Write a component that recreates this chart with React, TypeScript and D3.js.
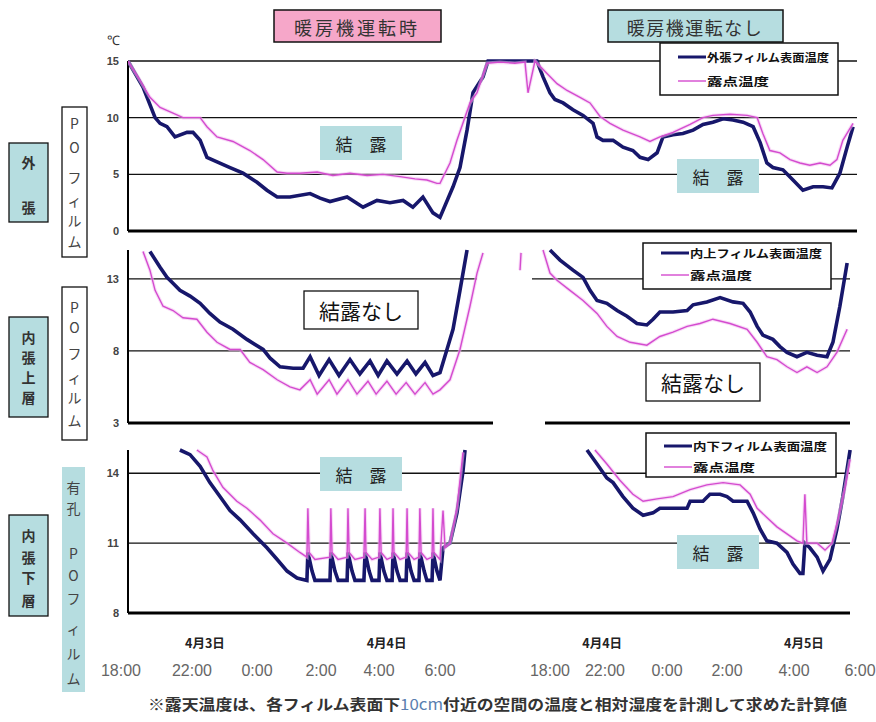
import React from "react";
import * as d3 from "d3";

// ---- x axis: hours elapsed from 18:00 on 4/3 (left night) ... right night ----
const TIME_HOURS = [0, 4, 6, 8, 10, 12, 24, 28, 30, 32, 34, 36];
const TIME_LABELS = ["18:00", "22:00", "0:00", "2:00", "4:00", "6:00", "18:00", "22:00", "0:00", "2:00", "4:00", "6:00"];
const DATE_HOURS = [4.4, 10.25, 27.8, 34.3];
const DATE_LABELS = ["4月3日", "4月4日", "4月4日", "4月5日"];

// ---- y ticks ----
const OUTER_DOMAIN = [0, 15];
const OUTER_TICKS = [15, 10, 5, 0];
const OUTER_GRID = [15, 10, 5];
const UPPER_DOMAIN = [3, 15];
const UPPER_TICKS = [13, 8, 3];
const UPPER_GRID = [13, 8];
const LOWER_DOMAIN = [8, 15];
const LOWER_TICKS = [14, 11, 8];
const LOWER_GRID = [14, 11];

// ---- series: [hour, °C] ----
const OUTER_FILM: number[][] = [[0.39,15.0],[1.24,12.7],[1.92,10.0],[2.2,9.5],[2.59,9.2],[3.04,8.3],[3.72,8.7],[4.03,8.7],[4.25,8.0],[4.46,6.5],[4.77,6.1],[5.17,5.6],[5.57,5.1],[6.0,4.3],[6.31,3.6],[6.63,3.0],[7.03,3.0],[7.66,3.3],[7.97,2.9],[8.31,2.6],[8.9,3.0],[9.45,2.1],[9.93,2.7],[10.36,2.5],[10.79,2.7],[11.11,2.1],[11.44,3.0],[11.77,1.6],[12.0,1.2],[13.42,3.9],[14.18,5.6],[14.95,8.9],[15.6,12.2],[16.69,13.6],[17.24,15.0],[22.58,15.0],[23.24,13.6],[24.0,12.2],[24.36,11.6],[24.95,11.3],[25.67,10.7],[26.4,10.2],[27.13,9.5],[27.42,8.3],[27.85,8.0],[28.26,8.0],[28.58,7.4],[28.9,7.1],[29.13,6.5],[29.39,6.3],[29.68,6.9],[29.87,8.3],[30.2,8.5],[30.53,8.6],[30.87,8.9],[31.2,9.4],[31.53,9.6],[31.87,9.9],[32.18,9.8],[32.48,9.6],[32.78,9.2],[32.99,7.8],[33.19,6.0],[33.37,5.6],[33.67,5.4],[33.97,4.5],[34.27,3.6],[34.58,3.9],[34.88,3.9],[35.15,3.8],[35.39,5.1],[35.61,7.4],[35.79,9.2]];
const OUTER_DEW: number[][] = [[0.39,15.0],[1.07,13.3],[1.63,11.8],[2.2,10.9],[2.93,10.4],[3.49,10.0],[4.25,10.0],[4.46,9.2],[4.77,8.3],[5.26,7.9],[5.78,7.1],[6.19,6.3],[6.63,5.2],[6.94,5.1],[7.34,5.1],[7.88,5.2],[8.41,4.9],[9.0,5.1],[9.59,4.9],[10.13,5.0],[10.69,4.8],[11.18,4.6],[11.57,4.5],[11.9,4.2],[12.0,4.2],[13.09,6.0],[13.85,8.0],[15.27,11.3],[16.04,12.2],[17.13,14.8],[18.55,14.9],[20.18,14.8],[21.27,14.9],[21.6,12.2],[22.36,15.0],[23.67,13.9],[24.51,13.0],[25.24,12.4],[26.18,11.8],[26.91,11.3],[27.64,10.1],[28.16,9.5],[28.58,8.9],[29.13,8.3],[29.45,7.9],[29.77,8.3],[30.2,8.7],[30.77,9.4],[31.2,10.0],[31.53,10.2],[32.09,10.3],[32.6,10.2],[32.9,10.0],[33.07,8.6],[33.28,7.1],[33.58,6.9],[33.88,6.3],[34.18,6.0],[34.48,5.8],[34.79,6.0],[35.09,5.8],[35.3,6.3],[35.48,8.0],[35.79,9.5]];

const UPPER_FILM: number[][] = [[1.63,14.9],[2.2,13.8],[2.59,13.1],[2.93,12.7],[3.32,12.2],[3.89,11.8],[4.25,11.3],[4.55,10.6],[4.86,10.0],[5.26,9.5],[5.69,8.8],[6.19,8.1],[6.41,7.5],[6.72,6.9],[7.13,6.8],[7.44,6.8],[7.66,7.6],[7.94,6.3],[8.28,7.4],[8.62,6.3],[9.0,7.4],[9.34,6.4],[9.69,7.3],[9.97,6.3],[10.26,7.3],[10.59,6.4],[10.92,7.3],[11.21,6.4],[11.51,7.2],[11.77,6.3],[12.0,6.5],[12.76,8.1],[13.42,9.5],[14.18,12.2],[14.95,15.0],[20,NaN],[24.0,15.0],[24.73,14.3],[25.67,13.6],[26.4,13.1],[26.91,12.2],[27.42,11.5],[28.06,11.3],[28.39,10.8],[28.71,10.4],[29.03,9.9],[29.35,9.8],[29.55,10.2],[29.77,10.7],[30.2,10.7],[30.67,10.8],[30.87,11.2],[31.33,11.4],[31.77,11.7],[32.18,11.4],[32.48,11.3],[32.69,10.7],[32.9,9.7],[33.07,9.1],[33.37,8.8],[33.58,8.3],[33.79,7.9],[34.09,7.6],[34.39,7.9],[34.7,7.7],[35.0,7.6],[35.18,8.6],[35.39,11.1],[35.61,14.1]];
const UPPER_DEW: number[][] = [[1.24,14.9],[1.63,13.6],[1.92,12.2],[2.37,11.1],[2.93,10.8],[3.49,10.3],[4.15,10.2],[4.46,9.3],[4.77,8.6],[5.17,8.1],[5.48,8.1],[5.78,7.2],[6.19,6.7],[6.63,6.0],[7.03,5.5],[7.34,5.3],[7.66,6.0],[7.88,5.0],[8.28,6.0],[8.55,5.0],[8.93,6.0],[9.24,5.0],[9.62,5.9],[9.9,5.0],[10.26,5.9],[10.56,5.0],[10.89,5.8],[11.18,5.0],[11.51,5.8],[11.77,5.0],[12.0,5.3],[13.09,6.0],[14.18,8.1],[15.27,11.1],[16.04,13.4],[16.69,14.8],[17,NaN],[20.73,13.6],[20.84,14.8],[21,NaN],[23.24,15.0],[24.0,13.4],[24.51,12.9],[25.45,12.2],[26.4,11.5],[27.42,10.6],[28.06,9.7],[28.39,9.0],[28.81,8.6],[29.35,8.4],[29.77,9.0],[30.2,9.3],[30.67,9.7],[31.1,9.9],[31.53,10.2],[32.09,9.9],[32.6,9.5],[32.9,8.6],[33.19,7.6],[33.49,7.4],[33.79,6.9],[34.09,6.5],[34.39,6.9],[34.7,6.5],[35.0,6.9],[35.3,7.9],[35.61,9.5]];

const LOWER_FILM: number[][] = [[3.32,15.0],[3.89,14.8],[4.25,14.3],[4.55,13.6],[4.86,13.0],[5.17,12.4],[5.48,12.0],[5.88,11.4],[6.31,10.8],[6.63,10.3],[6.94,9.8],[7.25,9.5],[7.56,9.4],[7.59,10.6],[7.72,9.8],[7.81,9.4],[8.31,9.4],[8.34,10.6],[8.48,9.8],[8.59,9.4],[8.9,9.4],[8.93,10.6],[9.07,9.8],[9.17,9.4],[9.48,9.4],[9.52,10.6],[9.66,9.8],[9.76,9.4],[10.0,9.4],[10.03,10.6],[10.16,9.8],[10.26,9.4],[10.43,9.4],[10.46,10.6],[10.59,9.8],[10.69,9.4],[10.89,9.4],[10.92,10.6],[11.05,9.8],[11.15,9.4],[11.31,9.4],[11.34,10.6],[11.48,9.8],[11.57,9.4],[11.74,9.4],[11.77,10.6],[11.9,9.8],[12.0,9.4],[12.33,10.8],[13.09,11.0],[13.85,12.3],[14.51,14.1],[14.73,15.0],[20,NaN],[26.69,15.0],[27.42,14.4],[28.06,13.8],[28.26,13.6],[28.58,13.0],[28.9,12.5],[29.23,12.2],[29.55,12.3],[29.77,12.5],[30.2,12.5],[30.67,12.5],[30.77,12.8],[31.2,12.8],[31.43,13.1],[31.77,13.1],[32.0,13.0],[32.18,12.8],[32.6,12.8],[32.78,12.3],[32.99,11.6],[33.19,11.1],[33.49,11.0],[33.79,10.6],[33.97,10.1],[34.18,9.7],[34.27,9.7],[34.33,11.0],[34.48,10.8],[34.7,10.4],[34.88,9.8],[35.09,10.3],[35.3,11.6],[35.48,13.0],[35.7,15.0]];
const LOWER_DEW: number[][] = [[4.15,15.0],[4.46,14.7],[4.65,14.1],[4.95,13.4],[5.38,12.8],[5.69,12.5],[6.09,12.0],[6.5,11.4],[6.94,11.0],[7.34,10.6],[7.56,10.4],[7.59,12.5],[7.63,10.6],[7.81,10.3],[8.31,10.4],[8.34,12.5],[8.38,10.6],[8.59,10.3],[8.9,10.4],[8.93,12.5],[8.97,10.6],[9.17,10.3],[9.48,10.4],[9.52,12.5],[9.55,10.6],[9.76,10.3],[10.0,10.4],[10.03,12.5],[10.07,10.6],[10.26,10.3],[10.43,10.4],[10.46,12.5],[10.49,10.6],[10.69,10.3],[10.89,10.4],[10.92,12.5],[10.95,10.6],[11.15,10.3],[11.31,10.4],[11.34,12.5],[11.38,10.6],[11.57,10.3],[11.74,10.4],[11.77,12.5],[11.8,10.6],[12.0,10.3],[12.33,12.4],[12.55,10.8],[13.09,11.0],[13.85,12.5],[14.51,14.9],[20,NaN],[27.27,15.0],[28.06,14.4],[28.48,13.7],[28.9,13.1],[29.23,12.8],[29.68,12.9],[30.2,13.0],[30.77,13.3],[31.33,13.5],[31.87,13.6],[32.39,13.5],[32.69,13.1],[32.9,12.5],[33.19,12.1],[33.49,11.7],[33.79,11.4],[34.09,11.1],[34.27,11.0],[34.33,13.1],[34.39,11.0],[34.7,11.0],[34.94,10.7],[35.15,11.0],[35.33,12.0],[35.55,13.4],[35.7,14.6]];

const LEGEND_FILM = ["外張フィルム表面温度", "内上フィルム表面温度", "内下フィルム表面温度"];
const LEGEND_DEW = "露点温度";

// ---- layout / style ----
const JP = "'Noto Sans CJK JP', sans-serif";
const NUM = "'Liberation Sans', Arial, sans-serif";
const NAVY = "#17176b";
const PINK = "#d44bcf";
const TEAL = "#b6dde0";
const AXIS_X = 128;
const TICK_X_PX = [121, 192, 257, 321, 379, 440, 550, 605, 667, 727, 794, 860];

const PANELS = [
  { film: OUTER_FILM, dew: OUTER_DEW, domain: OUTER_DOMAIN, ticks: OUTER_TICKS, grid: OUTER_GRID, top: 61, bottom: 231, right: 857, filmW: 3.6 },
  { film: UPPER_FILM, dew: UPPER_DEW, domain: UPPER_DOMAIN, ticks: UPPER_TICKS, grid: UPPER_GRID, top: 250, bottom: 423, right: 850, filmW: 3.6 },
  { film: LOWER_FILM, dew: LOWER_DEW, domain: LOWER_DOMAIN, ticks: LOWER_TICKS, grid: LOWER_GRID, top: 450, bottom: 613, right: 850, filmW: 3.6 },
];

const LEGENDS = [
  { x: 660, y: 43, w: 178, h: 52, r1: 57, r2: 81 },
  { x: 643, y: 243, w: 188, h: 46, r1: 253, r2: 275 },
  { x: 646, y: 433, w: 190, h: 44, r1: 446, r2: 467 },
];

function VText({ chars, x, ys, size, weight, fill }: { chars: string[]; x: number; ys: number[]; size: number; weight?: number; fill?: string }) {
  return (
    <g>
      {chars.map((c, i) => (
        <text key={i} x={x} y={ys[i]} textAnchor="middle" dominantBaseline="central" fontFamily={JP} fontSize={size} fontWeight={weight || 400} fill={fill || "#333"}>{c}</text>
      ))}
    </g>
  );
}

export default function App() {
  const x = d3.scaleLinear().domain(TIME_HOURS).range(TICK_X_PX);

  return (
    <svg width={876} height={722} style={{ position: "absolute", left: 0, top: 0, background: "#fff" }}>
      <defs>
        {PANELS.map((p, i) => (
          <clipPath id={`clip${i}`} key={i}>
            <rect x={AXIS_X} y={p.top - 3} width={p.right - AXIS_X + 2} height={p.bottom - p.top + 3} />
          </clipPath>
        ))}
      </defs>
      <rect x={0} y={0} width={876} height={722} fill="#fff" />

      {PANELS.map((p, i) => {
        const y = d3.scaleLinear().domain(p.domain).range([p.bottom, p.top]);
        const line = d3.line<number[]>().defined((d) => !isNaN(d[1])).x((d) => x(d[0])).y((d) => y(d[1]));
        return (
          <g key={i}>
            {p.grid.map((g) =>
              i === 1 && g === 13 ? (
                <g key={g}>
                  <line x1={AXIS_X} x2={477} y1={y(g)} y2={y(g)} stroke="#111" strokeWidth={1.4} />
                  <line x1={532} x2={p.right} y1={y(g)} y2={y(g)} stroke="#111" strokeWidth={1.4} />
                </g>
              ) : (
                <line key={g} x1={AXIS_X} x2={p.right} y1={y(g)} y2={y(g)} stroke="#111" strokeWidth={1.4} />
              )
            )}
            {i === 1 ? (
              <g>
                <line x1={AXIS_X} x2={493} y1={p.bottom} y2={p.bottom} stroke="#000" strokeWidth={3} />
                <line x1={545} x2={p.right} y1={p.bottom} y2={p.bottom} stroke="#000" strokeWidth={3} />
              </g>
            ) : (
              <line x1={AXIS_X} x2={p.right} y1={p.bottom} y2={p.bottom} stroke="#000" strokeWidth={3} />
            )}
            <line x1={AXIS_X} x2={AXIS_X} y1={y(15)} y2={p.bottom} stroke="#000" strokeWidth={2} />
            {p.ticks.map((t) => (
              <text key={t} x={119} y={y(t)} textAnchor="end" dominantBaseline="central" fontFamily={NUM} fontSize={11} fontWeight={700} fill="#444">{t}</text>
            ))}
            <g clipPath={`url(#clip${i})`}>
              <path d={line(p.film) || ""} fill="none" stroke={NAVY} strokeWidth={p.filmW} strokeLinejoin="miter" />
              <path d={line(p.dew) || ""} fill="none" stroke="#f3bdf0" strokeWidth={3.5} opacity={0.55} />
              <path d={line(p.dew) || ""} fill="none" stroke={PINK} strokeWidth={1.4} />
            </g>
          </g>
        );
      })}

      {/* °C */}
      <text x={113} y={40} textAnchor="middle" dominantBaseline="central" fontFamily={NUM} fontSize={13} fill="#333">℃</text>

      {/* headers */}
      <rect x={274} y={10} width={167} height={32} fill="#f6a7c9" stroke="#111" strokeWidth={1.5} />
      <text x={357} y={27} textAnchor="middle" dominantBaseline="central" fontFamily={JP} fontSize={18} letterSpacing={3} fill="#333">暖房機運転時</text>
      <rect x={608} y={10} width={175} height={32} fill={TEAL} stroke="#111" strokeWidth={1.5} />
      <text x={695} y={27} textAnchor="middle" dominantBaseline="central" fontFamily={JP} fontSize={18} letterSpacing={1.5} fill="#333">暖房機運転なし</text>

      {/* legends */}
      {LEGENDS.map((l, i) => (
        <g key={i}>
          <rect x={l.x} y={l.y} width={l.w} height={l.h} fill="#fff" stroke="#111" strokeWidth={1.5} />
          <line x1={l.x + 18} x2={l.x + 46} y1={l.r1} y2={l.r1} stroke={NAVY} strokeWidth={3} />
          <text x={l.x + 47} y={l.r1} dominantBaseline="central" fontFamily={JP} fontSize={11} fontWeight={700} fill="#111" textLength={l.w - 56} lengthAdjust="spacingAndGlyphs">{LEGEND_FILM[i]}</text>
          <line x1={l.x + 18} x2={l.x + 46} y1={l.r2} y2={l.r2} stroke={PINK} strokeWidth={1.4} />
          <text x={l.x + 47} y={l.r2} dominantBaseline="central" fontFamily={JP} fontSize={11} fontWeight={700} fill="#111" textLength={62} lengthAdjust="spacingAndGlyphs">{LEGEND_DEW}</text>
        </g>
      ))}

      {/* 結露 tags */}
      {[
        [320, 126], [677, 159], [320, 457], [677, 535],
      ].map(([bx, by], i) => (
        <g key={i}>
          <rect x={bx} y={by} width={82} height={34} fill={TEAL} />
          <text x={bx + 41} y={by + 17} textAnchor="middle" dominantBaseline="central" fontFamily={JP} fontSize={17} fill="#222">結　露</text>
        </g>
      ))}
      {[
        [304, 291], [646, 363],
      ].map(([bx, by], i) => (
        <g key={i}>
          <rect x={bx} y={by} width={114} height={38} fill="#fff" stroke="#111" strokeWidth={1.3} />
          <text x={bx + 57} y={by + 19} textAnchor="middle" dominantBaseline="central" fontFamily={JP} fontSize={21} fill="#111">結露なし</text>
        </g>
      ))}

      {/* left labels */}
      <rect x={9} y={143} width={39} height={79} fill={TEAL} stroke="#111" strokeWidth={1.3} />
      <VText chars={["外", "張"]} x={28.5} ys={[162, 207]} size={14} weight={700} />
      <rect x={62} y={107} width={25} height={150} fill="#fff" stroke="#111" strokeWidth={1.3} />
      <VText chars={["P", "O", "フ", "ィ", "ル", "ム"]} x={74.5} ys={[123, 147, 177, 200, 220, 241]} size={14} fill="#444" />

      <rect x={9} y={317} width={39} height={100} fill={TEAL} stroke="#111" strokeWidth={1.3} />
      <VText chars={["内", "張", "上", "層"]} x={28.5} ys={[337, 357, 377, 397]} size={14} weight={700} />
      <rect x={62} y={287} width={25} height={153} fill="#fff" stroke="#111" strokeWidth={1.3} />
      <VText chars={["P", "O", "フ", "ィ", "ル", "ム"]} x={74.5} ys={[307, 327, 353, 377, 397, 420]} size={14} fill="#444" />

      <rect x={9} y={515} width={39} height={101} fill={TEAL} stroke="#111" strokeWidth={1.3} />
      <VText chars={["内", "張", "下", "層"]} x={28.5} ys={[535, 557, 577, 600]} size={14} weight={700} />
      <rect x={62} y={467} width={23} height={225} fill={TEAL} />
      <VText chars={["有", "孔", "P", "O", "フ", "ィ", "ル", "ム"]} x={73.5} ys={[487, 508, 553, 575, 598, 628, 653, 678]} size={14} fill="#444" />

      {/* x labels */}
      {DATE_HOURS.map((h, i) => (
        <text key={i} x={x(h)} y={642} textAnchor="middle" dominantBaseline="central" fontFamily={JP} fontSize={12.5} fontWeight={700} fill="#222">{DATE_LABELS[i]}</text>
      ))}
      {TIME_HOURS.map((h, i) => (
        <text key={i} x={x(h)} y={670} textAnchor="middle" dominantBaseline="central" fontFamily={NUM} fontSize={16} fill="#666">{TIME_LABELS[i]}</text>
      ))}

      {/* footnote */}
      <text x={148} y={703} dominantBaseline="central" fontFamily={JP} fontSize={15} fontWeight={700} fill="#333" textLength={699} lengthAdjust="spacingAndGlyphs">
        ※露天温度は、各フィルム表面下<tspan fill="#5a7fb0" fontWeight={400}>10cm</tspan>付近の空間の温度と相対湿度を計測して求めた計算値
      </text>
    </svg>
  );
}
